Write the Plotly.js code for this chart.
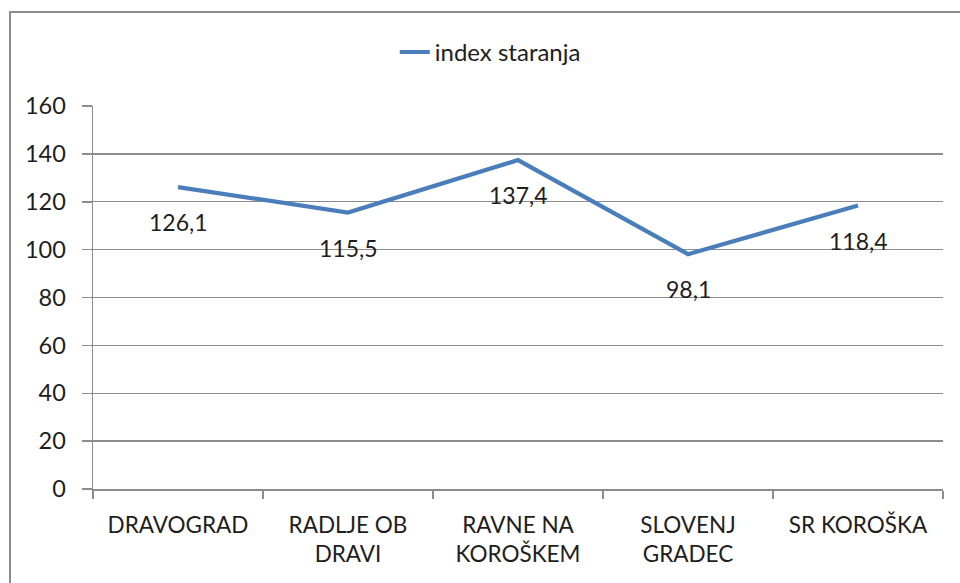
<!DOCTYPE html>
<html>
<head>
<meta charset="utf-8">
<script src="https://cdn.plot.ly/plotly-3.0.1.min.js"></script>
<style>
  html, body { margin: 0; padding: 0; background: #ffffff; overflow: hidden; }
  #chart { width: 960px; height: 583px; }
  #frame { position: absolute; left: 9px; top: 11px; width: 1000px; height: 1000px;
           border: 2px solid #8c8c8c; pointer-events: none; }
</style>
</head>
<body>
<div id="chart"></div>
<div id="frame"></div>
<script>
const categories = ["DRAVOGRAD", "RADLJE OB<br>DRAVI", "RAVNE NA<br>KOROŠKEM", "SLOVENJ<br>GRADEC", "SR KOROŠKA"];
const values = [126.1, 115.5, 137.4, 98.1, 118.4];
const valueLabels = ["126,1", "115,5", "137,4", "98,1", "118,4"];
const seriesName = "index staranja";
const yTicks = [0, 20, 40, 60, 80, 100, 120, 140, 160];

const FONT = "Lato, 'Open Sans', 'Liberation Sans', sans-serif";
const TXT = "#1e1e1e";

const trace = {
  type: "scatter",
  mode: "lines",
  x: categories,
  y: values,
  name: seriesName,
  line: { color: "#4a7ebb", width: 4.2 },
  hoverinfo: "skip"
};

const annotations = categories.map((c, i) => ({
  x: c, y: values[i], xref: "x", yref: "y",
  text: valueLabels[i], showarrow: false,
  yshift: -35,
  font: { family: FONT, size: 23, color: TXT }
}));

const layout = {
  width: 960, height: 583,
  margin: { l: 93, r: 17, t: 106, b: 94 },
  paper_bgcolor: "rgba(0,0,0,0)",
  plot_bgcolor: "rgba(0,0,0,0)",
  font: { family: FONT, size: 23, color: TXT },
  showlegend: true,
  legend: {
    orientation: "h", x: 0.355, xanchor: "left", y: 1.14, yanchor: "middle",
    font: { family: FONT, size: 24, color: TXT }
  },
  xaxis: {
    type: "category",
    range: [-0.5, categories.length - 0.5],
    showline: true, linecolor: "#8c8c8c", linewidth: 1.5,
    ticks: "outside", tickson: "boundaries", ticklen: 8, tickcolor: "#8c8c8c", tickwidth: 1.5,
    showgrid: false, zeroline: false,
    ticklabelstandoff: 15,
    tickfont: { family: FONT, size: 22.5, color: TXT },
    fixedrange: true
  },
  yaxis: {
    range: [0, 160],
    tickvals: yTicks,
    ticktext: yTicks.map(String),
    showline: true, linecolor: "#8c8c8c", linewidth: 1.5,
    ticks: "outside", ticklen: 10, tickcolor: "#8c8c8c", tickwidth: 1.5,
    showgrid: true, gridcolor: "#8c8c8c", gridwidth: 1.3,
    zeroline: false,
    ticklabelstandoff: 11,
    tickfont: { family: FONT, size: 23.5, color: TXT },
    fixedrange: true
  },
  annotations: annotations
};

Plotly.newPlot("chart", [trace], layout, { displayModeBar: false, staticPlot: true });
</script>
</body>
</html>
